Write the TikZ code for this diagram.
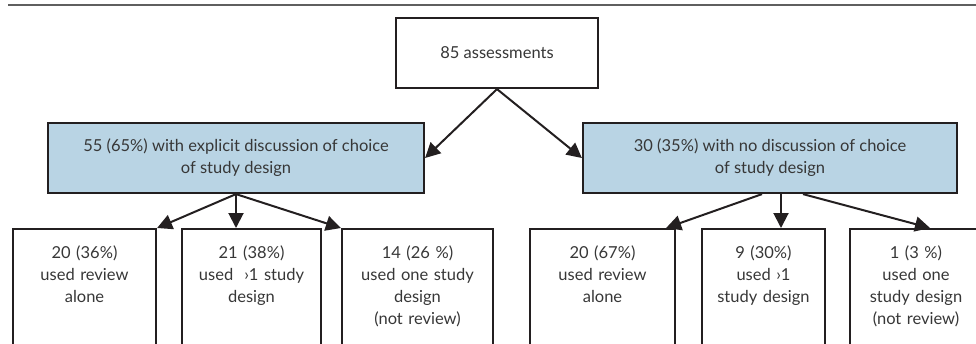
\documentclass[tikz,border=0pt]{standalone}
\usepackage{fontspec}
\setmainfont{Lato}
\usetikzlibrary{arrows.meta,calc}
\definecolor{groupblue}{RGB}{185,212,228}
\definecolor{boxline}{RGB}{35,31,32}
\definecolor{inktext}{RGB}{55,55,55}
\definecolor{rulegray}{RGB}{95,95,95}
\tikzset{
  flowbox/.style={draw=boxline, line width=2.2pt, align=center, text=inktext,
    font=\fontsize{16.5}{22}\selectfont},
  totalbox/.style={flowbox, fill=white, minimum width=202pt, minimum height=70pt},
  groupbox/.style={flowbox, fill=groupblue, minimum height=70pt},
  leafbox/.style={flowbox, anchor=north, inner xsep=3pt, inner ysep=17pt,
    text height=12pt, text depth=110pt},
  flow/.style={draw=boxline, line width=2pt, -{Triangle[length=15pt,width=15pt]}}
}
\begin{document}
\begin{tikzpicture}[x=1pt,y=-1pt]
\clip (0,0) rectangle (976,343);

% header rule
\draw [rulegray, line width=1.5pt] (8,5) -- (976,5);

% Total
\node [totalbox] (total) at (497,53) {85 assessments};

% Groups
\node [groupbox, minimum width=376pt] (explicit) at (236,158)
  {55 (65\%) with explicit discussion of choice\\of study design};
\node [groupbox, minimum width=374pt] (nodisc) at (770,158)
  {30 (35\%) with no discussion of choice\\of study design};

% Leaves, explicit discussion
\node [leafbox, text width=137pt] (exrev) at (84.5,228) {20 (36\%)\\used review\\alone};
\node [leafbox, text width=133pt] (exmulti) at (251.5,228) {21 (38\%)\\used\ \ ›1 study\\design};
\node [leafbox, text width=145pt] (exone) at (417.5,228) {14 (26 \%)\\used one study\\design\\(not review)};

% Leaves, no discussion
\node [leafbox, text width=139pt] (norev) at (602.5,228) {20 (67\%)\\used review\\alone};
\node [leafbox, text width=117pt] (nomulti) at (763.5,228) {9 (30\%)\\used ›1\\study design};
\node [leafbox, text width=126pt] (noone) at (916,228) {1 (3 \%)\\used one\\study design\\(not review)};

% Connectors
\draw [flow] (total.south) -- (explicit.east);
\draw [flow] (total.south) -- (nodisc.west);

\draw [flow] (explicit.south) -- (exrev.north east);
\draw [flow] (explicit.south) -- (explicit.south |- exmulti.north);
\draw [flow] (explicit.south) -- (exone.north west);

\coordinate (nofork) at ($(nodisc.south)+(11,0)$);
\draw [flow] ($(nodisc.south)+(-8,0)$) -- ($(norev.north east)+(-10,0)$);
\draw [flow] (nofork) -- (nofork |- nomulti.north);
\draw [flow] ($(nodisc.south)+(33,0)$) -- ($(noone.north)+(14,0)$);

\end{tikzpicture}
\end{document}
